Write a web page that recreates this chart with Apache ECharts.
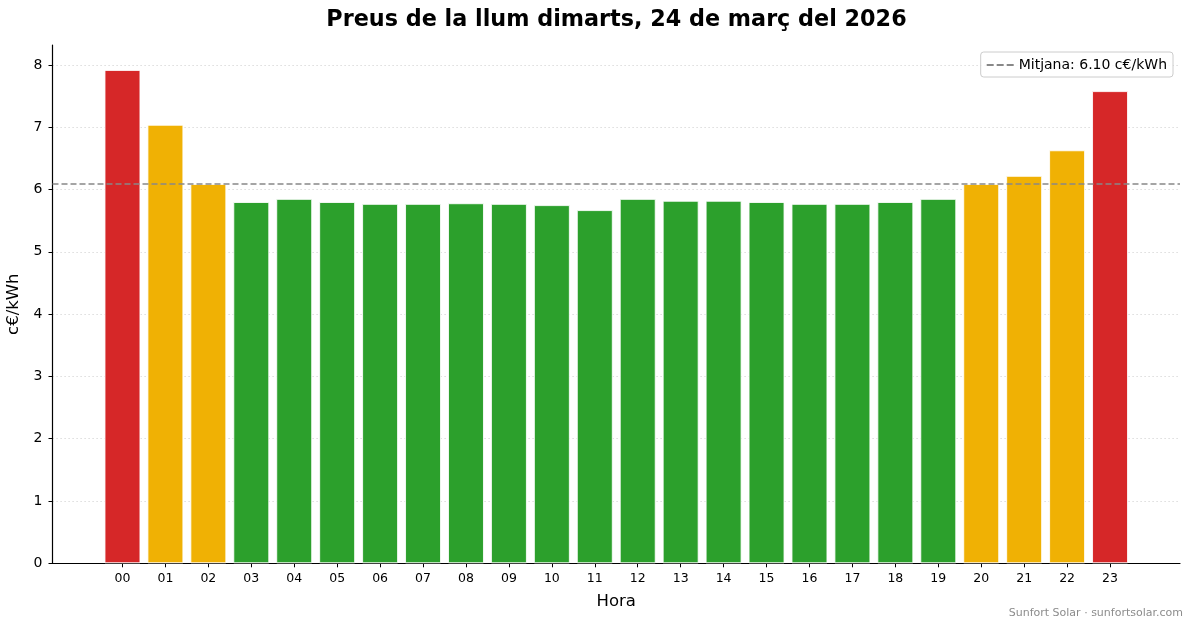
<!DOCTYPE html>
<html>
<head>
<meta charset="utf-8">
<script src="https://cdn.jsdelivr.net/npm/echarts@6/dist/echarts.min.js"></script>
<style>html,body{margin:0;padding:0;background:#fff;}#c{width:1193px;height:628px;}</style>
</head>
<body>
<div id="c"></div>
<script>
const hours = ["00","01","02","03","04","05","06","07","08","09","10","11","12","13","14","15","16","17","18","19","20","21","22","23"];
const prices = [7.92,7.04,6.09,5.80,5.85,5.80,5.77,5.77,5.78,5.77,5.75,5.67,5.85,5.82,5.82,5.80,5.77,5.77,5.80,5.85,6.09,6.22,6.63,7.58];
const tiers = ["high","mid","mid","low","low","low","low","low","low","low","low","low","low","low","low","low","low","low","low","low","mid","mid","mid","high"];
const meanValue = 6.10;
const yTicks = [0,1,2,3,4,5,6,7,8];
const tierColors = {high:"#d62728", mid:"#f0b104", low:"#2ca02c"};

const FONT = "DejaVu Sans";
const chart = echarts.init(document.getElementById('c'), null, {renderer:'canvas'});
const meanName = "Mitjana: " + meanValue.toFixed(2) + " c€/kWh";

chart.setOption({
  animation:false,
  backgroundColor:'#fff',
  textStyle:{fontFamily:FONT},
  graphic:[
    {type:'text', x:616.5, y:20, style:{text:"Preus de la llum dimarts, 24 de març del 2026", textAlign:'center', textVerticalAlign:'middle', font:'bold 22.3px "DejaVu Sans"', fill:'#000'}},
    {type:'text', x:1183, y:613, style:{text:"Sunfort Solar · sunfortsolar.com", textAlign:'right', textVerticalAlign:'middle', font:'11px "DejaVu Sans"', fill:'#8c8c8c'}}
  ],
  legend:{
    data:[{name:meanName, icon:'path://M0,0h7v2h-7z M10,0h7v2h-7z M20,0h7v2h-7z'}],
    right:20, top:52, itemWidth:27, itemHeight:2, itemGap:8,
    padding:[6,6,5,6],
    borderColor:'#cccccc', borderWidth:1, borderRadius:3, backgroundColor:'rgba(255,255,255,0.8)',
    textStyle:{fontFamily:FONT, fontSize:14, color:'#000'},
    itemStyle:{color:'#888'}
  },
  grid:[
    {left:101, right:61.5, top:45, bottom:64.7, containLabel:false, outerBoundsMode:'none'},
    {left:52.5, right:13, top:45, bottom:64.7, containLabel:false, outerBoundsMode:'none'}
  ],
  xAxis:[
    {type:'category', gridIndex:0, data:hours,
     axisLine:{show:false}, axisTick:{show:true, alignWithLabel:true, length:4, lineStyle:{color:'#000'}},
     axisLabel:{fontFamily:FONT, fontSize:12.5, color:'#000', margin:9}, splitLine:{show:false}},
    {type:'value', gridIndex:1, min:0, max:1,
     axisLine:{show:true, onZero:false, lineStyle:{color:'#000', width:1.2}}, axisTick:{show:false}, axisLabel:{show:false}, splitLine:{show:false},
     name:'Hora', nameLocation:'middle', nameGap:30, nameTextStyle:{fontFamily:FONT, fontSize:16.5, color:'#000'}}
  ],
  yAxis:[
    {type:'value', gridIndex:0, min:0, max:8.32, interval:1, show:false, splitLine:{show:false}},
    {type:'value', gridIndex:1, min:0, max:8.32, interval:1,
     axisLine:{show:true, lineStyle:{color:'#000', width:1.2}}, axisTick:{show:true, length:4, lineStyle:{color:'#000'}},
     axisLabel:{fontFamily:FONT, fontSize:14, color:'#000', margin:10, showMaxLabel:false, formatter:v=> yTicks.includes(v)? String(v):''},
     splitLine:{show:true, showMaxLine:false, showMinLine:false, lineStyle:{color:'#d3d3d3', type:[1.2,2.8], width:1}},
     name:'c€/kWh', nameLocation:'middle', nameGap:27, nameRotate:90, nameTextStyle:{fontFamily:FONT, fontSize:16.5, color:'#000'}}
  ],
  series:[
    {type:'bar', xAxisIndex:0, yAxisIndex:0, barWidth:36, z:2,
     data:prices.map((v,i)=>({value:v, itemStyle:{color:tierColors[tiers[i]]}})),
     itemStyle:{borderColor:'rgba(255,255,255,0.85)', borderWidth:1}},
    {type:'line', name:meanName, xAxisIndex:1, yAxisIndex:1, data:[], z:5,
     lineStyle:{color:'#888', type:[6,3], width:1.5}, itemStyle:{color:'#888'}, symbol:'none',
     markLine:{silent:true, symbol:'none', label:{show:false}, z:5,
       lineStyle:{color:'#888', type:[6,3], width:1.5},
       data:[{yAxis:meanValue}]}}
  ]
});
</script>
</body>
</html>
